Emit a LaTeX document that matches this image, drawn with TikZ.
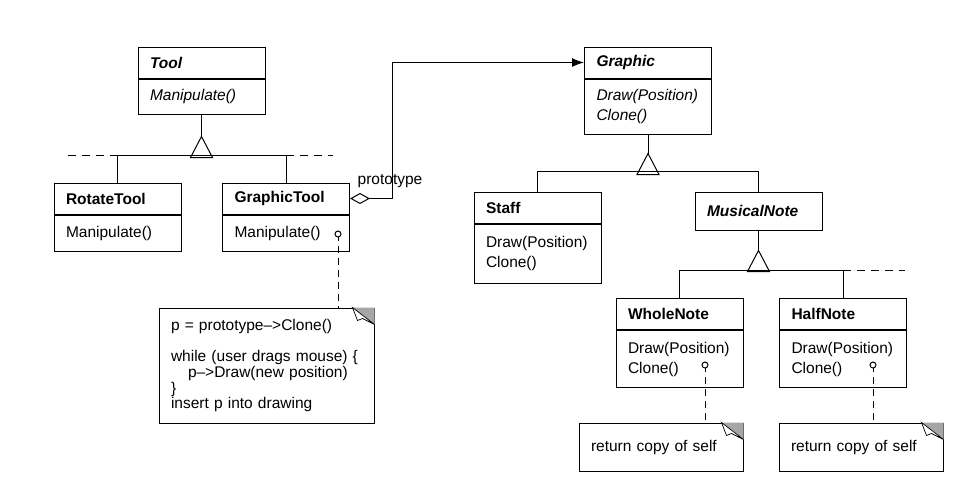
\documentclass[tikz,border=0pt]{standalone}
\usepackage{fontspec}
\setmainfont{Liberation Sans}
\usetikzlibrary{positioning,calc,arrows.meta}

\tikzset{
  classhead/.style={draw, rectangle, text width=103pt, inner xsep=12pt, inner ysep=0pt,
    minimum height=31pt, align=left},
  classbody/.style={classhead, minimum height=#1},
  notebox/.style={draw, rectangle, inner xsep=12pt, inner ysep=0pt, align=left,
    font=\fontsize{15.5}{15.7}\selectfont},
  notelink/.style={dash pattern=on 7pt off 5pt},
  openend/.style={dash pattern=on 8pt off 6pt},
  aggr/.style={{Diamond[open,length=20pt,width=11pt]}-{Latex[length=12pt,width=9pt]}}
}

% folded corner of a note
\newcommand{\dogear}[1]{%
  \fill[gray!70] ($(#1.north east)+(-22,0)$) -- (#1.north east) -- ($(#1.north east)+(0,-17)$) -- cycle;
  \draw[fill=white, line width=0.7pt] ($(#1.north east)+(-22,0)$) -- ($(#1.north east)+(-17,-13)$)
    -- ($(#1.north east)+(-12,-11)$) -- ($(#1.north east)+(0,-17)$) -- cycle;
}

\begin{document}
\begin{tikzpicture}[x=1pt, y=1pt, line width=1pt, font=\fontsize{15.5}{20}\selectfont]
    \useasboundingbox (0,0) rectangle (961,-483);

    % tools
    \node[classhead] (tool) at (201.5,-62.5) {\textbf{\textit{Tool}}};
    \node[classbody=35pt, below=0pt of tool] (toolops) {\textit{Manipulate()}};
    \node[classhead] (rotate) at (117.5,-198.5) {\textbf{RotateTool}};
    \node[classbody=36pt, below=0pt of rotate] (rotateops) {Manipulate()};
    \node[classhead] (gtool) at (286,-198.5) {\textbf{GraphicTool}};
    \node[classbody=36pt, below=0pt of gtool] (gtoolops) {Manipulate()};

    % graphics
    \node[classhead] (graphic) at (648,-62.5) {\textbf{\textit{Graphic}}};
    \node[classbody=55pt, below=0pt of graphic] (graphicops) {\textit{Draw(Position)}\\\textit{Clone()}};
    \node[classhead] (staff) at (537.5,-207.5) {\textbf{Staff}};
    \node[classbody=59pt, below=0pt of staff] (staffops) {Draw(Position)\\Clone()};
    \node[classhead, minimum height=38pt] (mnote) at (758.5,-211) {\textbf{\textit{MusicalNote}}};
    \node[classhead] (wnote) at (679.5,-314) {\textbf{WholeNote}};
    \node[classbody=57pt, below=0pt of wnote] (wnoteops) {Draw(Position)\\Clone()};
    \node[classhead] (hnote) at (843,-314) {\textbf{HalfNote}};
    \node[classbody=57pt, below=0pt of hnote] (hnoteops) {Draw(Position)\\Clone()};

    % notes
    \node[notebox, text width=191pt, minimum height=115pt] (gnote) at (266.5,-365.5)
      {p = prototype-->Clone()\\[15.7pt]
       while (user drags mouse) \{\\
       \hspace*{17pt}p-->Draw(new position)\\
       \}\\
       insert p into drawing};
    \node[notebox, text width=140pt, minimum height=48pt] (wcode) at (661,-447) {return copy of self};
    \node[notebox, text width=140pt, minimum height=48pt] (hcode) at (861,-447) {return copy of self};
    \dogear{gnote}
    \dogear{wcode}
    \dogear{hcode}

    % Tool hierarchy
    \draw (toolops.south) -- ++(0,-22) coordinate (toolapex);
    \draw (toolapex) -- ++(-11,-21) -- ++(22,0) -- cycle;
    \draw (rotate.north) -- ++(0,27) -| (gtool.north);
    \draw[openend] (rotate.north) ++(0,27) -- ++(-55,0);
    \draw[openend] (gtool.north) ++(0,27) -- ++(47,0);

    % Graphic hierarchy
    \draw (graphicops.south) -- ++(0,-19) coordinate (graphicapex);
    \draw (graphicapex) -- ++(-11,-21) -- ++(22,0) -- cycle;
    \draw (staff.north) -- ++(0,20) -| (mnote.north);

    % MusicalNote hierarchy
    \draw (mnote.south) -- ++(0,-20) coordinate (mnoteapex);
    \draw (mnoteapex) -- ++(-11,-21) -- ++(22,0) -- cycle;
    \draw (wnote.north) -- ++(0,28) -| (hnote.north);
    \draw[openend] (hnote.north) ++(0,28) -- ++(62,0);

    % prototype
    \draw[aggr] (gtool.east) -- ++(42,0) coordinate (protobend) |- (graphic.west);
    \node (protolabel) at (390,-181) {prototype};

    % note links
    \coordinate (gtoolpin) at (338,-234);
    \coordinate (wnotepin) at (705,-365);
    \coordinate (hnotepin) at (873,-365);
    \draw[notelink] (gtoolpin) -- (gtoolpin |- gnote.north);
    \draw[notelink] (wnotepin) -- (wnotepin |- wcode.north);
    \draw[notelink] (hnotepin) -- (hnotepin |- hcode.north);
    \draw[fill=white] (gtoolpin) circle (3);
    \draw[fill=white] (wnotepin) circle (3);
    \draw[fill=white] (hnotepin) circle (3);
\end{tikzpicture}
\end{document}
